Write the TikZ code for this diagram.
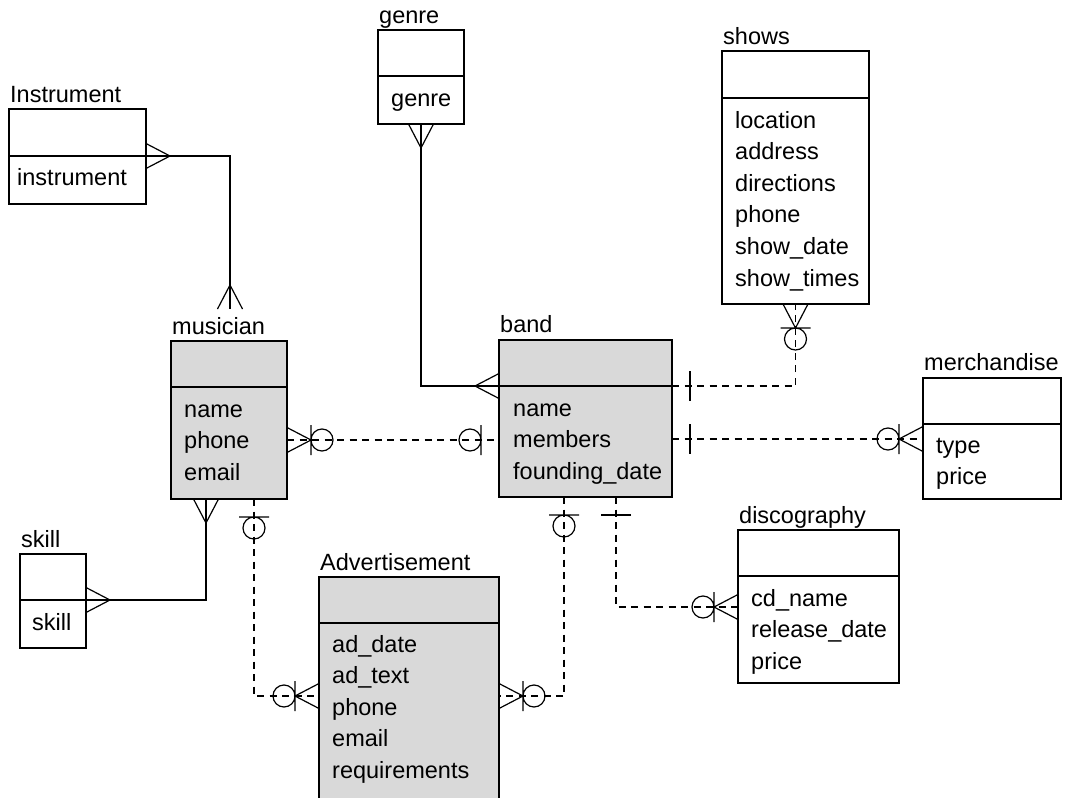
\documentclass[tikz,border=0pt]{standalone}
\usepackage{fontspec}
\setmainfont{Liberation Sans}
\usepackage{xcolor}
\definecolor{boxgray}{HTML}{D9D9D9}

\tikzset{
  ent/.style={draw, line width=1.3pt, anchor=north west, inner sep=0pt, outer sep=0pt},
  weak/.style={ent, fill=white},
  strong/.style={ent, fill=boxgray},
  ttl/.style={anchor=base west, inner sep=0pt, font=\fontsize{23.5}{28}\selectfont},
  attr/.style={ttl},
  divline/.style={line width=1.3pt},
  rel/.style={line width=1.2pt, dash pattern=on 7pt off 5.5pt},
  idrel/.style={line width=1.2pt},
  % ends of the relations
  crow/.pic={\draw[solid, line width=1.2pt] (0,-12.5) -- (24,0) -- (0,12.5);},
  one/.pic={\draw[solid, line width=1.2pt] (18,-15) -- (18,15);},
  zone/.pic={\draw[solid, line width=1.2pt] (18,-15) -- (18,15) (29,0) circle[radius=11pt];},
  zmany/.pic={\draw[solid, line width=1.2pt] (0,-12.5) -- (24,0) -- (0,12.5) (24,-15) -- (24,15) (35,0) circle[radius=11pt];}
}

\begin{document}
\begin{tikzpicture}[x=1pt, y=-1pt]
\useasboundingbox (0,0) rectangle (1069,798);

% Instrument
\node[ttl] (instr-t) at (10,102) {Instrument};
\node[weak, minimum width=137pt, minimum height=95pt] (instr) at (9,109) {};
\coordinate (instr-d) at (9,156);
\draw[divline] (instr-d) -- (instr-d -| instr.east);
\node[attr] (instr-a) at (17,185) {instrument};

% genre
\node[ttl] (genre-t) at (379,23) {genre};
\node[weak, minimum width=86pt, minimum height=94pt] (genre) at (378,30) {};
\coordinate (genre-d) at (378,76);
\draw[divline] (genre-d) -- (genre-d -| genre.east);
\node[attr] (genre-a) at (391,106) {genre};

% shows
\node[ttl] (shows-t) at (723,44) {shows};
\node[weak, minimum width=147pt, minimum height=253pt] (shows) at (722,51) {};
\coordinate (shows-d) at (722,98);
\draw[divline] (shows-d) -- (shows-d -| shows.east);
\foreach \a [count=\i from 0] in {location, address, directions, phone, show\_date, show\_times}
  \node[attr] (shows-a\i) at (735,{128+31.6*\i}) {\a};

% musician
\node[ttl] (musician-t) at (172,334) {musician};
\node[strong, minimum width=116pt, minimum height=158pt] (musician) at (171,341) {};
\coordinate (musician-d) at (171,387);
\draw[divline] (musician-d) -- (musician-d -| musician.east);
\foreach \a [count=\i from 0] in {name, phone, email}
  \node[attr] (musician-a\i) at (184,{417+31.6*\i}) {\a};

% band
\node[ttl] (band-t) at (500,332) {band};
\node[strong, minimum width=173pt, minimum height=157pt] (band) at (499,340) {};
\coordinate (band-d) at (499,386);
\draw[divline] (band-d) -- (band-d -| band.east);
\foreach \a [count=\i from 0] in {name, members, founding\_date}
  \node[attr] (band-a\i) at (513,{416+31.6*\i}) {\a};

% merchandise
\node[ttl] (merch-t) at (924,370) {merchandise};
\node[weak, minimum width=138pt, minimum height=121pt] (merch) at (923,378) {};
\coordinate (merch-d) at (923,424);
\draw[divline] (merch-d) -- (merch-d -| merch.east);
\foreach \a [count=\i from 0] in {type, price}
  \node[attr] (merch-a\i) at (936,{453+31.6*\i}) {\a};

% discography
\node[ttl] (disco-t) at (739,523) {discography};
\node[weak, minimum width=161pt, minimum height=153pt] (disco) at (738,530) {};
\coordinate (disco-d) at (738,576);
\draw[divline] (disco-d) -- (disco-d -| disco.east);
\foreach \a [count=\i from 0] in {cd\_name, release\_date, price}
  \node[attr] (disco-a\i) at (751,{606+31.6*\i}) {\a};

% skill
\node[ttl] (skill-t) at (21,547) {skill};
\node[weak, minimum width=66pt, minimum height=94pt] (skill) at (20,554) {};
\coordinate (skill-d) at (20,600);
\draw[divline] (skill-d) -- (skill-d -| skill.east);
\node[attr] (skill-a) at (32,630) {skill};

% Advertisement
\node[ttl] (adv-t) at (320,570) {Advertisement};
\node[strong, minimum width=180pt, minimum height=240pt] (adv) at (319,577) {};
\coordinate (adv-d) at (319,623);
\draw[divline] (adv-d) -- (adv-d -| adv.east);
\foreach \a [count=\i from 0] in {ad\_date, ad\_text, phone, email, requirements}
  \node[attr] (adv-a\i) at (332,{652+31.6*\i}) {\a};

% bend points
\coordinate (musician-in) at (230,309);
\coordinate (bm) at (0,439);
\coordinate (mb) at (0,440);
\coordinate (ms) at (206,0);
\coordinate (ma) at (254,696);
\coordinate (ba) at (564,696);
\coordinate (bd) at (616,607);

% solid relations
\draw[idrel] (instr.east |- instr-d) -| (musician-in);
\pic at (instr.east |- instr-d) {crow};
\pic[rotate=90] at (musician-in) {crow};

\draw[idrel] (genre.south) |- (band.west |- band-d);
\pic[rotate=-90] at (genre.south) {crow};
\pic[rotate=180] at (band.west |- band-d) {crow};

\draw[idrel] (musician.south -| ms) |- (skill.east |- skill-d);
\pic[rotate=-90] at (musician.south -| ms) {crow};
\pic at (skill.east |- skill-d) {crow};

% dashed relations
\draw[rel] (band.east |- band-d) -| (shows.south);
\pic at (band.east |- band-d) {one};
\pic[rotate=-90] at (shows.south) {zmany};

\draw[rel] (band.east |- bm) -- (merch.west |- bm);
\pic at (band.east |- bm) {one};
\pic[rotate=180] at (merch.west |- bm) {zmany};

\draw[rel] (musician.east |- mb) -- (band.west |- mb);
\pic at (musician.east |- mb) {zmany};
\pic[rotate=180] at (band.west |- mb) {zone};

\draw[rel] (musician.south -| ma) |- (adv.west |- ma);
\pic[rotate=-90] at (musician.south -| ma) {zone};
\pic[rotate=180] at (adv.west |- ma) {zmany};

\draw[rel] (band.south -| ba) |- (adv.east |- ba);
\pic[rotate=-90] at (band.south -| ba) {zone};
\pic at (adv.east |- ba) {zmany};

\draw[rel] (band.south -| bd) |- (disco.west |- bd);
\pic[rotate=-90] at (band.south -| bd) {one};
\pic[rotate=180] at (disco.west |- bd) {zmany};
\end{tikzpicture}
\end{document}
